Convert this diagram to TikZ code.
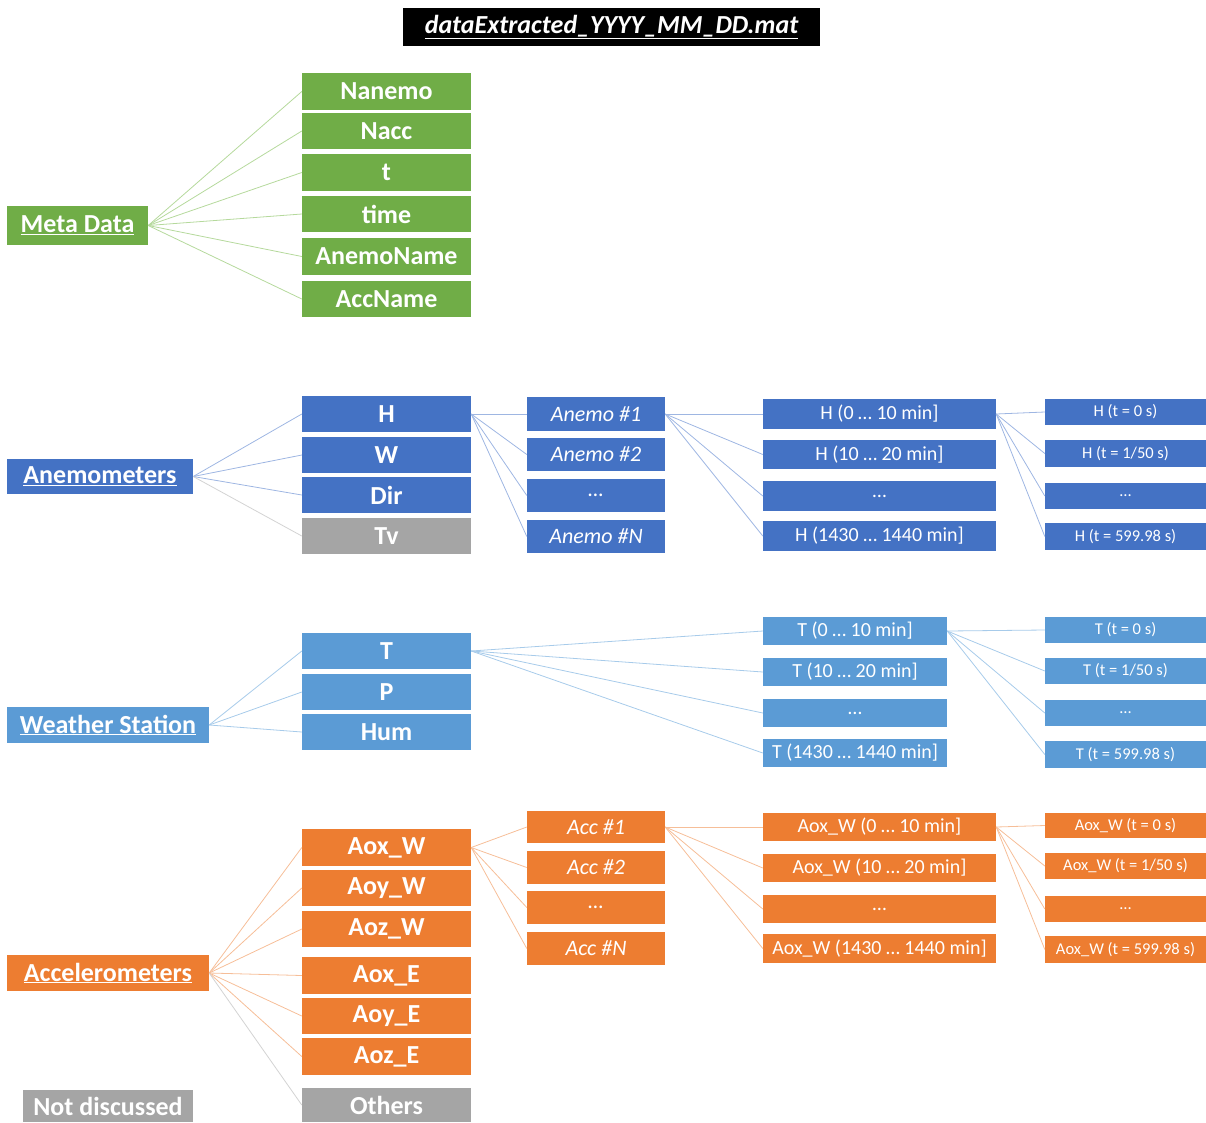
\documentclass[tikz,border=0pt]{standalone}
\usepackage{fontspec}
\setmainfont{Carlito}
\definecolor{cgreen}{HTML}{70AD47}
\definecolor{lgreen}{HTML}{B5D99C}
\definecolor{cblue}{HTML}{4472C4}
\definecolor{lblue}{HTML}{9EB6E2}
\definecolor{csky}{HTML}{5B9BD5}
\definecolor{lsky}{HTML}{A7CBEA}
\definecolor{corange}{HTML}{ED7D31}
\definecolor{lorange}{HTML}{F6BE98}
\definecolor{cgray}{HTML}{A5A5A5}
\definecolor{lgray}{HTML}{D3D3D3}
\newcommand\bx[7]{\node[#1, minimum width={(#5-#3)*1pt}, minimum height={(#6-#4)*1pt}] (#2) at ({(#3+#5)/2},{(#4+#6)/2}) {#7};}
\begin{document}
\begin{tikzpicture}[x=1pt,y=-1pt,
  box/.style={inner sep=0pt, text=white, anchor=center},
  grp/.style={box, font=\bfseries\fontsize{26}{26}\selectfont},
  ctwo/.style={box, font=\bfseries\fontsize{26}{26}\selectfont},
  cthree/.style={box, font=\itshape\fontsize{22}{22}\selectfont},
  cfour/.style={box, font=\fontsize{20}{20}\selectfont},
  cfive/.style={box, font=\fontsize{16.5}{16.5}\selectfont},
  titlebox/.style={box, fill=black, font=\bfseries\itshape\fontsize{26}{26}\selectfont},
  fg/.style={fill=cgreen}, fb/.style={fill=cblue}, fs/.style={fill=csky},
  fo/.style={fill=corange}, fy/.style={fill=cgray},
  wg/.style={draw=lgreen, line width=0.8pt},
  wb/.style={draw=lblue, line width=0.8pt},
  ws/.style={draw=lsky, line width=0.8pt},
  wo/.style={draw=lorange, line width=0.8pt},
  wy/.style={draw=lgray, line width=0.8pt}]
\useasboundingbox (0,0) rectangle (1206,1122);

% title
\bx{titlebox}{title}{403}{8}{820}{46}{\underline{dataExtracted\_YYYY\_MM\_DD.mat}}

% Meta data
\bx{grp,fg}{md}{7}{206}{148}{245}{\underline{Meta Data}}
\bx{ctwo,fg}{nanemo}{302}{73}{471}{110}{Nanemo}
\bx{ctwo,fg}{nacc}{302}{113}{471}{149}{Nacc}
\bx{ctwo,fg}{tt}{302}{154}{471}{191}{t}
\bx{ctwo,fg}{time}{302}{196}{471}{232}{time}
\bx{ctwo,fg}{anemoname}{302}{238}{471}{275}{AnemoName}
\bx{ctwo,fg}{accname}{302}{281}{471}{317}{AccName}
\foreach \n in {nanemo,nacc,tt,time,anemoname,accname}
  \draw[wg] (md.east) -- (\n.west);

% Anemometers
\bx{grp,fb}{an}{7}{459}{193}{494}{\underline{Anemometers}}
\bx{ctwo,fb}{H}{302}{396}{471}{432}{H}
\bx{ctwo,fb}{W}{302}{437}{471}{473}{W}
\bx{ctwo,fb}{Dir}{302}{477}{471}{513}{Dir}
\bx{ctwo,fy}{Tv}{302}{518}{471}{554}{Tv}
\bx{cthree,fb}{a1}{527}{397}{665}{431}{Anemo \#1}
\bx{cthree,fb}{a2}{527}{438}{665}{471}{Anemo \#2}
\bx{cthree,fb}{a3}{527}{479}{665}{512}{…}
\bx{cthree,fb}{aN}{527}{520}{665}{553}{Anemo \#N}
\bx{cfour,fb}{hm1}{763}{399}{996}{429}{H (0 … 10 min]}
\bx{cfour,fb}{hm2}{763}{440}{996}{469}{H (10 … 20 min]}
\bx{cfour,fb}{hm3}{763}{481}{996}{511}{…}
\bx{cfour,fb}{hm4}{763}{521}{996}{551}{H (1430 … 1440 min]}
\bx{cfive,fb}{ht1}{1045}{399}{1206}{425}{H (t = 0 s)}
\bx{cfive,fb}{ht2}{1045}{440}{1206}{467}{H (t = 1/50 s)}
\bx{cfive,fb}{ht3}{1045}{483}{1206}{509}{…}
\bx{cfive,fb}{ht4}{1045}{523}{1206}{550}{H (t = 599.98 s)}
\foreach \n in {H,W,Dir} \draw[wb] (an.east) -- (\n.west);
\draw[wy] (an.east) -- (Tv.west);
\foreach \n in {a1,a2,a3,aN} \draw[wb] (H.east) -- (\n.west);
\foreach \n in {hm1,hm2,hm3,hm4} \draw[wb] (a1.east) -- (\n.west);
\foreach \n in {ht1,ht2,ht3,ht4} \draw[wb] (hm1.east) -- (\n.west);

% Weather station
\bx{grp,fs}{wst}{7}{707}{209}{743}{\underline{Weather Station}}
\bx{ctwo,fs}{T}{302}{633}{471}{669}{T}
\bx{ctwo,fs}{P}{302}{674}{471}{710}{P}
\bx{ctwo,fs}{Hum}{302}{714}{471}{750}{Hum}
\bx{cfour,fs}{tm1}{763}{617}{947}{645}{T (0 … 10 min]}
\bx{cfour,fs}{tm2}{763}{658}{947}{686}{T (10 … 20 min]}
\bx{cfour,fs}{tm3}{763}{699}{947}{727}{…}
\bx{cfour,fs}{tm4}{763}{739}{947}{767}{T (1430 … 1440 min]}
\bx{cfive,fs}{tt1}{1045}{617}{1206}{643}{T (t = 0 s)}
\bx{cfive,fs}{tt2}{1045}{658}{1206}{684}{T (t = 1/50 s)}
\bx{cfive,fs}{tt3}{1045}{700}{1206}{726}{…}
\bx{cfive,fs}{tt4}{1045}{741}{1206}{768}{T (t = 599.98 s)}
\foreach \n in {T,P,Hum} \draw[ws] (wst.east) -- (\n.west);
\foreach \n in {tm1,tm2,tm3,tm4} \draw[ws] (T.east) -- (\n.west);
\foreach \n in {tt1,tt2,tt3,tt4} \draw[ws] (tm1.east) -- (\n.west);

% Accelerometers
\bx{grp,fo}{ac}{7}{955}{209}{991}{\underline{Accelerometers}}
\bx{ctwo,fo}{aoxw}{302}{829}{471}{866}{Aox\_W}
\bx{ctwo,fo}{aoyw}{302}{870}{471}{906}{Aoy\_W}
\bx{ctwo,fo}{aozw}{302}{911}{471}{947}{Aoz\_W}
\bx{ctwo,fo}{aoxe}{302}{957}{471}{994}{Aox\_E}
\bx{ctwo,fo}{aoye}{302}{998}{471}{1034}{Aoy\_E}
\bx{ctwo,fo}{aoze}{302}{1038}{471}{1075}{Aoz\_E}
\bx{ctwo,fy}{oth}{302}{1088}{471}{1122}{Others}
\bx{cthree,fo}{c1}{527}{811}{665}{843}{Acc \#1}
\bx{cthree,fo}{c2}{527}{851}{665}{884}{Acc \#2}
\bx{cthree,fo}{c3}{527}{891}{665}{924}{…}
\bx{cthree,fo}{cN}{527}{932}{665}{965}{Acc \#N}
\bx{cfour,fo}{am1}{763}{813}{996}{841}{Aox\_W (0 … 10 min]}
\bx{cfour,fo}{am2}{763}{854}{996}{882}{Aox\_W (10 … 20 min]}
\bx{cfour,fo}{am3}{763}{895}{996}{923}{…}
\bx{cfour,fo}{am4}{763}{934}{996}{963}{Aox\_W (1430 … 1440 min]}
\bx{cfive,fo}{at1}{1045}{813}{1206}{838}{Aox\_W (t = 0 s)}
\bx{cfive,fo}{at2}{1045}{853}{1206}{879}{Aox\_W (t = 1/50 s)}
\bx{cfive,fo}{at3}{1045}{896}{1206}{922}{…}
\bx{cfive,fo}{at4}{1045}{936}{1206}{963}{Aox\_W (t = 599.98 s)}
\foreach \n in {aoxw,aoyw,aozw,aoxe,aoye,aoze} \draw[wo] (ac.east) -- (\n.west);
\draw[wy] (ac.east) -- (oth.west);
\foreach \n in {c1,c2,c3,cN} \draw[wo] (aoxw.east) -- (\n.west);
\foreach \n in {am1,am2,am3,am4} \draw[wo] (c1.east) -- (\n.west);
\foreach \n in {at1,at2,at3,at4} \draw[wo] (am1.east) -- (\n.west);

% legend
\bx{grp,fy}{nd}{23}{1090}{193}{1122}{Not discussed}
\end{tikzpicture}
\end{document}
